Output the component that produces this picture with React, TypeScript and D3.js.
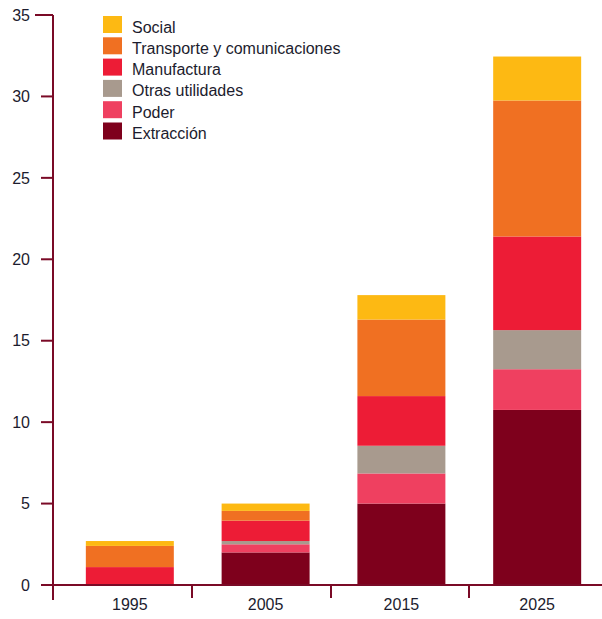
import React from "react";
import * as d3 from "d3";

const years = ["1995", "2005", "2015", "2025"];
const seriesNames = ["Extracción", "Poder", "Otras utilidades", "Manufactura", "Transporte y comunicaciones", "Social"];
const extraccion = [0, 2.0, 5.0, 10.75];
const poder = [0, 0.5, 1.85, 2.5];
const otras = [0, 0.2, 1.7, 2.4];
const manufactura = [1.1, 1.25, 3.05, 5.75];
const transporte = [1.3, 0.6, 4.7, 8.35];
const social = [0.3, 0.45, 1.5, 2.7];
const colors = ["#7E001C", "#EF4060", "#A89A8E", "#ED1C36", "#F07022", "#FDB913"];
const yTicks = [0, 5, 10, 15, 20, 25, 30, 35];
const legendOrder = [5, 4, 3, 2, 1, 0];

const W = 602, H = 619;
const axisColor = "#7A0A26";
const textColor = "#1C1C2E";

export default function App() {
  const seriesValues = [extraccion, poder, otras, manufactura, transporte, social];
  const rows = years.map((y, i) => {
    const r: any = { year: y };
    seriesNames.forEach((s, k) => (r[s] = seriesValues[k][i]));
    return r;
  });
  const stacked = d3.stack().keys(seriesNames)(rows);
  const yScale = d3.scaleLinear().domain([0, 35]).range([585, 15]);
  const xScale = d3.scaleBand().domain(years).range([58, 609]).paddingInner(0.352).paddingOuter(0.205);
  const xTickPos = [192, 331, 469];
  return (
    <svg width={W} height={H} style={{ position: "absolute", left: 0, top: 0 }} fontFamily="'Liberation Sans', Arial, sans-serif">
      {stacked.map((layer, k) => (
        <g key={layer.key} fill={colors[k]}>
          {layer.map((d, i) => {
            const h = yScale(d[0]) - yScale(d[1]);
            if (h <= 0) return null;
            return (
              <rect key={i} x={xScale(years[i])} width={xScale.bandwidth()} y={yScale(d[1])} height={h} />
            );
          })}
        </g>
      ))}
      {/* axes */}
      <line x1={53} x2={53} y1={15} y2={600} stroke={axisColor} strokeWidth={2} />
      <line x1={43} x2={602} y1={585} y2={585} stroke={axisColor} strokeWidth={2} />
      {yTicks.map((t) => (
        <g key={t}>
          <line x1={t === 35 ? 35 : 41} x2={53} y1={yScale(t)} y2={yScale(t)} stroke={axisColor} strokeWidth={2} />
          <text x={30} y={yScale(t)} dy="0.36em" textAnchor="end" fontSize={16} fill={textColor}>{t}</text>
        </g>
      ))}
      {xTickPos.map((x, i) => (
        <line key={i} x1={x} x2={x} y1={585} y2={598} stroke={axisColor} strokeWidth={2} />
      ))}
      {years.map((y) => (
        <text key={y} x={(xScale(y) as number) + xScale.bandwidth() / 2} y={610} textAnchor="middle" fontSize={16} fill={textColor}>{y}</text>
      ))}
      {/* legend */}
      {legendOrder.map((k, i) => (
        <g key={k} transform={`translate(103, ${16 + i * 21.3})`}>
          <rect width={19} height={17} fill={colors[k]} />
          <text x={29} y={16.5} fontSize={16} fill={textColor}>{seriesNames[k]}</text>
        </g>
      ))}
    </svg>
  );
}
